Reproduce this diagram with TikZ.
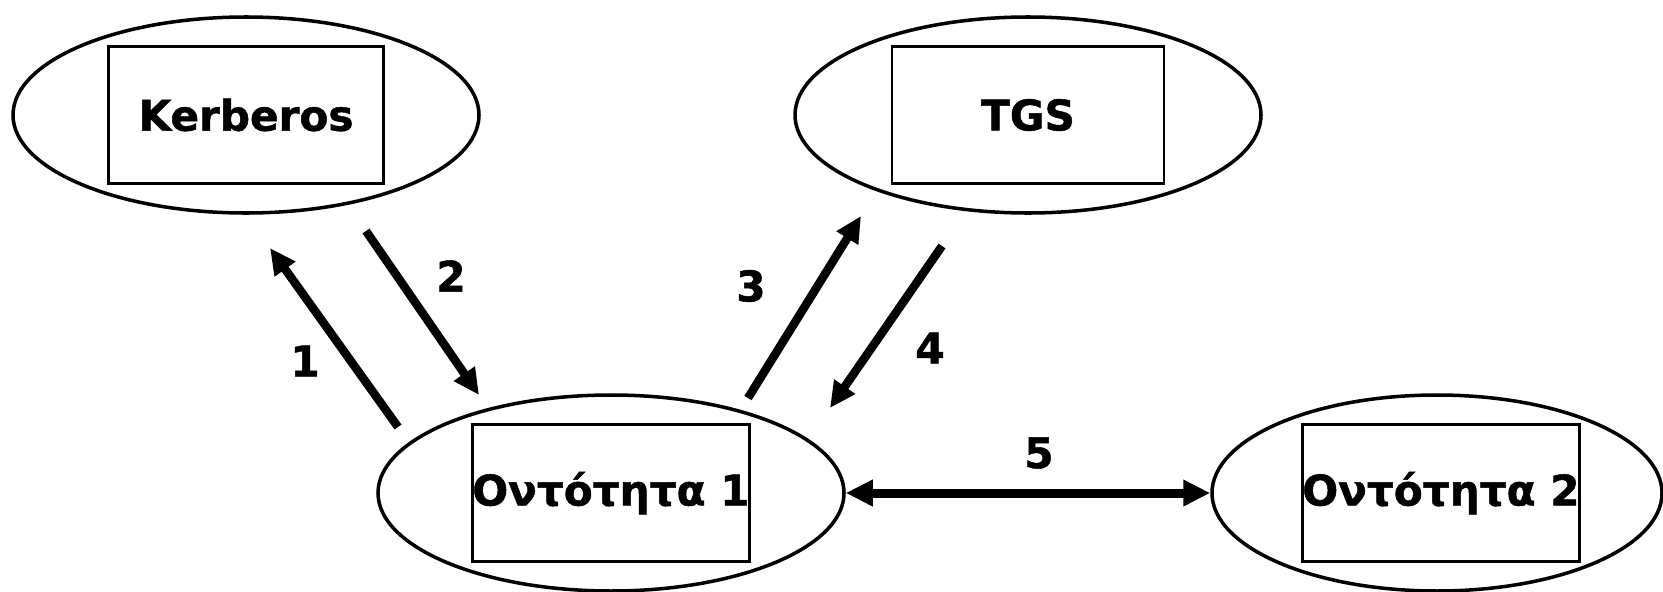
\documentclass[tikz,border=0pt]{standalone}
\usepackage{fontspec}
\setmainfont{DejaVu Sans}[BoldFeatures={FakeBold=1.2}]
\usetikzlibrary{arrows.meta,shapes.geometric}

\begin{document}
\begin{tikzpicture}[
			realm node/.style={ellipse,draw,line width=2pt,inner sep=0pt,minimum width=9.32cm,minimum height=3.92cm},
			name box/.style={rectangle,draw,line width=1.6pt,inner sep=0pt,minimum width=5.5cm,minimum height=2.74cm,font=\fontsize{24}{28}\selectfont\bfseries},
			msg label/.style={font=\fontsize{24}{28}\selectfont\bfseries,inner sep=0pt},
			flow arrow/.style={line width=0.17cm,-{Triangle[length=0.52cm,width=0.48cm]}}
			]
			\useasboundingbox (0,0) rectangle (33.26,11.82);
			
			% servers on top, entities below
			\node[realm node] (kerb) at (4.92,9.52) {};
			\node[name box] (kerbbox) at (kerb) {Kerberos};
			\node[realm node] (tgs) at (20.56,9.52) {};
			\node[name box, minimum width=5.44cm] (tgsbox) at (tgs) {TGS};
			\node[realm node] (ent1) at (12.22,1.96) {};
			\node[name box] (ent1box) at (ent1) {Οντότητα 1};
			\node[realm node, minimum width=9.0cm] (ent2) at (28.74,1.96) {};
			\node[name box, minimum width=5.46cm] (ent2box) at ([xshift=0.08cm]ent2) {Οντότητα 2};
			
			% arrow ends
			\coordinate (m1from) at (7.96,3.28);
			\coordinate (m1to) at (5.40,6.86);
			\coordinate (m2from) at (7.32,7.20);
			\coordinate (m2to) at (9.58,3.92);
			\coordinate (m3from) at (14.96,3.86);
			\coordinate (m3to) at (17.22,7.50);
			\coordinate (m4from) at (18.84,6.90);
			\coordinate (m4to) at (16.60,3.66);
			
			\draw[flow arrow] (m1from) -- (m1to);
			\draw[flow arrow] (m2from) -- (m2to);
			\draw[flow arrow] (m3from) -- (m3to);
			\draw[flow arrow] (m4from) -- (m4to);
			\draw[line width=0.18cm,{Triangle[length=0.54cm,width=0.5cm]}-{Triangle[length=0.54cm,width=0.5cm]}] (ent1) -- (ent2);
			
			\node[msg label] (n1) at (6.10,4.60) {1};
			\node[msg label] (n2) at (9.02,6.30) {2};
			\node[msg label] (n3) at (15.02,6.10) {3};
			\node[msg label] (n4) at (18.60,4.86) {4};
			\node[msg label] (n5) at (20.78,2.76) {5};
		\end{tikzpicture}
\end{document}
